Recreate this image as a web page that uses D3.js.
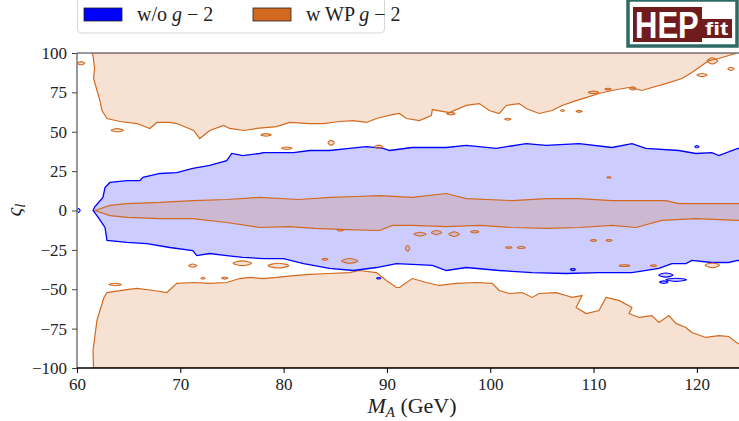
<!DOCTYPE html>
<html lang="en">
<head>
  <meta charset="UTF-8">
  <title>varsigma_l vs M_A</title>
  <script src="https://d3js.org/d3.v7.min.js"></script>
  <style>
    body { margin: 0; background: #fff; }
    svg text { font-family: "Liberation Serif", "DejaVu Serif", serif; }
    svg text.logo { font-family: "Liberation Sans", Arial, sans-serif; font-weight: bold; }
  </style>
</head>
<body>
  <div id="chart"></div>
  <script>
    // ticks
    const xTicks = [60, 70, 80, 90, 100, 110, 120];
    const yTicks = [-100, -75, -50, -25, 0, 25, 50, 75, 100];

    // w/o g-2 region: upper and lower edges [M_A, varsigma_l]
    const blueUpper = [[61.55,0],[61.74,2.5],[62.51,8.3],[62.71,14.6],[63.19,17.8],[64.83,19.0],[66.09,19.0],[66.38,21.0],[68.02,23.5],[69.66,24.1],[71.21,26.7],[72.85,28.6],[74.49,31.7],[74.98,36.2],[76.04,34.9],[77.68,36.2],[78.07,36.8],[80.97,36.8],[82.51,38.1],[84.44,38.1],[86.38,39.4],[88.02,40.6],[89.66,39.4],[90.24,38.1],[92.46,40.0],[95.75,40.0],[97.68,41.3],[100.58,39.4],[103.48,42.5],[105.41,41.3],[108.6,42.5],[111.79,40.0],[113.72,42.5],[115.07,39.4],[118.26,38.1],[119.9,36.2],[121.45,36.8],[122.13,34.9],[123.96,39.4],[125,39]];
    const blueLower = [[61.55,0],[61.93,-3.2],[62.71,-10.8],[62.9,-19.0],[64.83,-20.3],[66.76,-21.0],[68.99,-23.5],[71.21,-25.4],[71.59,-28.6],[72.85,-27.3],[74.49,-28.6],[76.04,-29.8],[78.07,-30.5],[80.0,-30.5],[81.93,-33.7],[84.44,-36.8],[86.76,-38.1],[88.99,-36.2],[90.92,-33.7],[94.4,-34.9],[95.75,-38.1],[97.68,-36.2],[100.87,-38.1],[104.06,-39.4],[107.34,-40.0],[110.53,-39.4],[113.72,-39.4],[116.33,-36.8],[117.58,-33.7],[118.94,-33.7],[119.52,-31.7],[121.45,-33.0],[123.09,-33.0],[123.96,-31.7],[125,-32]];

    // w WP g-2: central band
    const bandUpper = [[61.74,0],[63.19,3.2],[64.83,4.4],[68.02,5.1],[71.21,6.3],[74.49,7.0],[77.68,8.3],[81.5,7.0],[84.5,8.3],[87.0,8.9],[89.28,9.5],[92.46,8.3],[95.75,10.8],[97.68,7.6],[102.13,6.3],[105.41,7.6],[108.6,7.6],[111.79,6.3],[117.0,6.3],[118.26,4.4],[123.96,4.4],[125,4.4]];
    const bandLower = [[61.74,0],[63.19,-3.2],[64.83,-4.4],[68.02,-5.1],[71.21,-5.1],[74.49,-7.6],[77.68,-10.8],[80.5,-10.2],[83.0,-11.4],[86.0,-12.1],[89.28,-12.7],[90.53,-9.5],[92.46,-9.5],[95.75,-10.2],[98.94,-9.5],[102.13,-10.8],[105.41,-11.4],[108.6,-10.8],[111.79,-9.5],[114.11,-10.8],[116.62,-6.3],[119.9,-5.1],[123.96,-6.3],[125,-6.3]];

    // w WP g-2: upper and lower outer regions (edge facing the centre)
    const topEdge = [[61.45,100],[61.55,98.4],[61.7,90],[61.6,83.8],[62.22,69.8],[62.42,63.5],[62.9,58.4],[64.15,56.5],[65.8,55.2],[67.05,52.1],[67.73,55.9],[68.99,55.9],[69.66,55.2],[71.3,50.8],[71.88,45.7],[72.85,50.8],[74.2,54.0],[74.78,52.1],[76.14,50.8],[77.39,52.1],[79.32,53.3],[80.58,55.9],[82.51,55.2],[83.86,55.2],[85.41,56.5],[86.76,57.1],[88.02,55.9],[88.99,58.4],[90.63,61.0],[91.21,61.6],[91.88,58.4],[93.14,57.1],[94.3,60.3],[94.4,64.1],[96.04,62.2],[97.68,66.7],[98.94,67.9],[99.9,63.5],[100.87,61.6],[101.55,66.7],[102.8,67.9],[103.48,64.8],[104.73,61.6],[105.99,63.5],[106.96,66.7],[108.31,69.8],[109.28,71.7],[110.53,74.3],[111.79,76.2],[113.43,78.1],[114.69,76.2],[115.65,78.1],[117.0,80.6],[118.55,83.8],[119.52,87.6],[120.48,92.1],[121.16,95.2],[122.13,96.5],[123.09,98.4],[123.96,100]];
    const bottomEdge = [[61.6,-100],[61.55,-88.9],[61.93,-69.8],[62.22,-63.5],[62.61,-55.2],[62.9,-52.1],[64.83,-50.2],[65.8,-49.5],[67.44,-50.8],[68.7,-52.1],[69.66,-46.3],[71.3,-45.7],[72.85,-46.3],[74.49,-45.7],[75.75,-43.2],[76.71,-42.5],[78.07,-43.2],[79.32,-42.5],[80.97,-41.3],[82.51,-40.6],[84.44,-40.0],[86.38,-39.4],[87.34,-38.1],[88.99,-39.4],[89.95,-44.4],[90.92,-48.9],[91.21,-48.9],[92.46,-43.2],[93.82,-45.7],[95.07,-47.6],[96.71,-46.3],[98.65,-45.7],[100.19,-46.3],[100.87,-50.8],[101.84,-52.7],[103.09,-52.1],[104.06,-55.2],[104.73,-52.7],[106.38,-52.1],[107.34,-54.0],[107.92,-55.2],[108.89,-54.0],[108.31,-61.6],[109.28,-65.4],[110.53,-63.5],[111.21,-55.2],[112.46,-57.1],[113.72,-61.6],[113.43,-65.4],[114.4,-67.9],[115.65,-66.7],[116.33,-71.1],[117.29,-66.7],[117.97,-71.7],[118.94,-74.3],[119.52,-77.5],[120.87,-80.6],[122.13,-79.4],[123.09,-80.0],[123.96,-84.4],[125,-85],[125,-100]];

    // small islands: [M_A, varsigma_l, half width (GeV), half height]
    const orangeIslands = [[60.4,93.5,0.35,1.0],[63.9,51.0,0.6,1.0],[78.3,48.0,0.5,0.8],[84.6,43.0,0.3,1.5],[80.3,39.5,0.5,0.8],[89.2,40.5,0.4,1.0],[96.2,61.5,0.4,0.8],[101.7,58.0,0.3,0.6],[107.0,63.5,0.2,0.6],[108.6,63.0,0.3,0.6],[110.0,75.0,0.5,0.8],[111.4,77.0,0.3,0.6],[113.8,77.5,0.3,1.0],[120.5,86.0,0.5,1.0],[121.5,95.0,0.5,2.0],[123.3,90.0,0.3,1.0],
      [63.7,-47.0,0.6,0.8],[71.2,-35.0,0.4,1.0],[74.3,-43.0,0.3,0.6],[72.2,-43.0,0.2,0.6],[76.0,-33.5,0.9,1.5],[79.5,-35.0,1.0,1.5],[84.0,-31.0,0.3,0.6],[86.4,-32.0,0.8,1.5],
      [93.2,-15.0,0.6,1.2],[94.8,-14.0,0.5,1.3],[96.5,-15.0,0.5,1.5],[98.5,-13.5,0.4,0.7],[101.8,-23.5,0.3,0.5],[103.0,-23.5,0.4,0.8],[92.0,-24.0,0.2,1.8],[110.0,-19.0,0.3,0.6],[111.5,-19.0,0.3,0.6],[111.5,21.0,0.2,0.4],[113.0,-35.0,0.5,0.6],[115.8,-35.0,0.3,0.6],[121.5,-34.8,0.7,1.5],[85.5,-12.5,0.3,0.6]];
    const blueIslands = [[60.15,0,0.15,1.3],[120.0,40.5,0.2,0.7],[108.0,-37.5,0.25,0.7],[117.0,-41.0,0.7,1.3],[118.0,-44.0,1.0,1.0],[116.8,-45.5,0.4,0.8],[89.2,-43.0,0.2,0.5]];

    const width = 739, height = 421;
    const x = d3.scaleLinear().domain([60, 125]).range([77, 748.5]);
    const y = d3.scaleLinear().domain([-100, 100]).range([368, 53]);

    const blue = "#0000ff", orange = "#d2691e";

    const svg = d3.select("#chart").append("svg")
      .attr("width", width)
      .attr("height", height);

    svg.append("clipPath").attr("id", "plot")
      .append("rect")
        .attr("x", 77).attr("y", 53)
        .attr("width", 739 - 77).attr("height", 368 - 53);

    const line = d3.line().x(d => x(d[0])).y(d => y(d[1]));
    const blob = d3.line().x(d => x(d[0])).y(d => y(d[1])).curve(d3.curveCardinalClosed);
    const band = (up, low) => up.concat(low.slice().reverse());
    const rhomb = d => [[d[0] - d[2], d[1]], [d[0], d[1] + d[3]], [d[0] + d[2], d[1]], [d[0], d[1] - d[3]]];

    const g = svg.append("g").attr("clip-path", "url(#plot)");

    // outer regions
    g.append("path").attr("d", line(topEdge) + "Z")
      .attr("fill", orange).attr("fill-opacity", 0.2)
      .attr("stroke", orange).attr("stroke-width", 1.2);
    g.append("path").attr("d", line(bottomEdge) + "Z")
      .attr("fill", orange).attr("fill-opacity", 0.2)
      .attr("stroke", orange).attr("stroke-width", 1.2);

    // w/o g-2
    g.append("path").attr("d", line(band(blueUpper, blueLower)) + "Z")
      .attr("fill", blue).attr("fill-opacity", 0.2)
      .attr("stroke", blue).attr("stroke-width", 1.3);

    // central band
    g.append("path").attr("d", line(band(bandUpper, bandLower)) + "Z")
      .attr("fill", orange).attr("fill-opacity", 0.2)
      .attr("stroke", orange).attr("stroke-width", 1.2);

    g.selectAll("path.oi")
      .data(orangeIslands)
      .join("path")
        .attr("class", "oi")
        .attr("d", d => blob(rhomb(d)))
        .attr("fill", orange).attr("fill-opacity", 0.2)
        .attr("stroke", orange).attr("stroke-width", 1.1);

    g.selectAll("path.bi")
      .data(blueIslands)
      .join("path")
        .attr("class", "bi")
        .attr("d", d => blob(rhomb(d)))
        .attr("fill", blue).attr("fill-opacity", 0.2)
        .attr("stroke", blue).attr("stroke-width", 1.1);

    // spines
    svg.append("line").attr("x1", 77).attr("x2", 739).attr("y1", 53).attr("y2", 53)
      .attr("stroke", "#777").attr("stroke-width", 1.5);
    svg.append("line").attr("x1", 77).attr("x2", 77).attr("y1", 53).attr("y2", 368)
      .attr("stroke", "#777").attr("stroke-width", 1.5);

    // axes
    const fmt = d => d < 0 ? "\u2212" + Math.abs(d) : String(d);
    const xAxis = svg.append("g")
      .attr("transform", "translate(0,368)")
      .call(d3.axisBottom(x).tickValues(xTicks).tickSize(5).tickPadding(5).tickFormat(fmt));
    xAxis.select(".domain").attr("d", "M77,0H739").attr("stroke", "#000").attr("stroke-width", 1.5);
    xAxis.selectAll("text").attr("font-size", 17).attr("fill", "#222");

    const yAxis = svg.append("g")
      .attr("transform", "translate(77,0)")
      .call(d3.axisLeft(y).tickValues(yTicks).tickSize(5).tickPadding(5).tickFormat(fmt));
    yAxis.select(".domain").remove();
    yAxis.selectAll("line").attr("stroke", "#444");
    yAxis.selectAll("text").attr("font-size", 17).attr("fill", "#222");

    // axis labels
    const xl = svg.append("text")
      .attr("x", 412).attr("y", 413)
      .attr("text-anchor", "middle")
      .attr("font-size", 22).attr("fill", "#222");
    xl.append("tspan").attr("font-style", "italic").text("M");
    xl.append("tspan").attr("font-style", "italic").attr("font-size", 15).attr("dy", 4).text("A");
    xl.append("tspan").attr("dy", -4).text(" (GeV)");

    const yl = svg.append("text")
      .attr("transform", "translate(21,210) rotate(-90)")
      .attr("text-anchor", "middle")
      .attr("font-size", 22).attr("fill", "#222");
    yl.append("tspan").attr("font-style", "italic").text("\u03c2");
    yl.append("tspan").attr("font-style", "italic").attr("font-size", 15).attr("dy", 4).text("l");

    // legend
    const legend = svg.append("g");
    legend.append("rect")
      .attr("x", 77.5).attr("y", -6).attr("width", 307).attr("height", 39).attr("rx", 4)
      .attr("fill", "#fff").attr("fill-opacity", 0.8).attr("stroke", "#d6d6d6");
    const items = [{label: "w/o ", color: blue, x: 84}, {label: "w WP ", color: orange, x: 253}];
    items.forEach(it => {
      legend.append("rect").attr("x", it.x).attr("y", 8).attr("width", 38).attr("height", 13)
        .attr("fill", it.color).attr("stroke", "#222").attr("stroke-width", 0.8);
      const t = legend.append("text").attr("x", it.x + 53).attr("y", 21)
        .attr("font-size", 20).attr("fill", "#222");
      t.append("tspan").text(it.label);
      t.append("tspan").attr("font-style", "italic").text("g");
      t.append("tspan").text(" \u2212 2");
    });

    // HEPfit logo
    const logo = svg.append("g");
    logo.append("rect").attr("x", 628).attr("y", 0).attr("width", 109).attr("height", 46)
      .attr("fill", "#fff").attr("stroke", "#2f6a64").attr("stroke-width", 3.5);
    logo.append("rect").attr("x", 633).attr("y", 7).attr("width", 69).attr("height", 35).attr("fill", "#711c1c");
    logo.append("rect").attr("x", 702).attr("y", 19).attr("width", 30).attr("height", 19).attr("fill", "#711c1c");
    logo.append("text").attr("class", "logo")
      .attr("transform", "translate(635,38) scale(1,1.2)")
      .attr("font-size", 31).attr("fill", "#fff").text("HEP");
    logo.append("text").attr("class", "logo")
      .attr("transform", "translate(705,35) scale(1.3,1)")
      .attr("font-size", 19).attr("fill", "#fff").text("fit");
  </script>
</body>
</html>
